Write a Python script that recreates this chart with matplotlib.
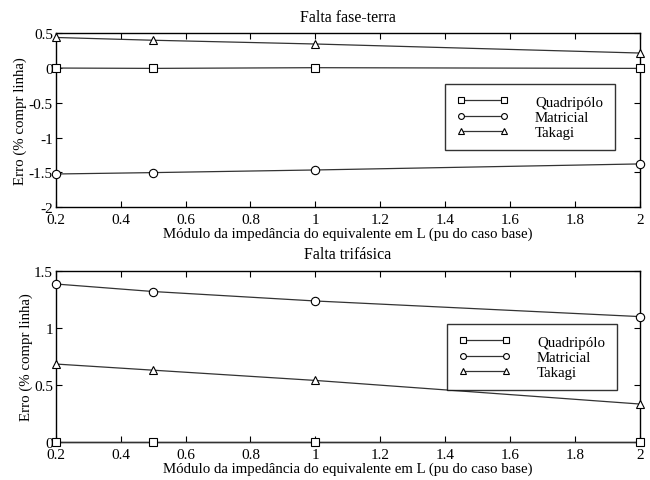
import matplotlib
matplotlib.use("Agg")
import matplotlib.pyplot as plt

plt.rcParams['font.family'] = ['Liberation Serif', 'DejaVu Serif']

x = [0.2, 0.5, 1.0, 2.0]

# Falta fase-terra
ft_quad = [0.0, -0.005, 0.005, -0.005]
ft_matr = [-1.525, -1.505, -1.467, -1.38]
ft_taka = [0.44, 0.40, 0.346, 0.216]

# Falta trifásica
tf_quad = [0.0, 0.0, 0.0, 0.0]
tf_matr = [1.386, 1.32, 1.237, 1.10]
tf_taka = [0.684, 0.63, 0.54, 0.333]

labels = ['Quadripólo', 'Matricial', 'Takagi']
markers = ['s', 'o', '^']
titles = ['Falta fase-terra', 'Falta trifásica']
xlabel = 'Módulo da impedância do equivalente em L (pu do caso base)'
ylabel = 'Erro (% compr linha)'
xticks = [0.2, 0.4, 0.6, 0.8, 1.0, 1.2, 1.4, 1.6, 1.8, 2.0]
xticklabels = ['0.2', '0.4', '0.6', '0.8', '1', '1.2', '1.4', '1.6', '1.8', '2']
yticks_top = [-2, -1.5, -1, -0.5, 0, 0.5]
yticklabels_top = ['-2', '-1.5', '-1', '-0.5', '0', '0.5']
yticks_bot = [0, 0.5, 1, 1.5]
yticklabels_bot = ['0', '0.5', '1', '1.5']

fig = plt.figure(figsize=(6.5, 4.81), dpi=100)
W, H = 650, 481
ax1 = fig.add_axes([55.7 / W, 1 - 208 / H, (640 - 55.7) / W, (208 - 34.3) / H])
ax2 = fig.add_axes([55.7 / W, 1 - 443 / H, (640 - 55.7) / W, (443 - 272) / H])

lc = '#333333'
for ax, series, yt, ytl, ylim, title, legpos in [
    (ax1, [ft_quad, ft_matr, ft_taka], yticks_top, yticklabels_top, (-2, 0.5), titles[0], (445, 85, 615, 147)),
    (ax2, [tf_quad, tf_matr, tf_taka], yticks_bot, yticklabels_bot, (0, 1.5), titles[1], (447, 325, 617, 387)),
]:
    for s, m, lab in zip(series, markers, labels):
        ax.plot(x, s, color=lc, lw=0.9, marker=m, markersize=6,
                markerfacecolor='white', markeredgecolor='black', markeredgewidth=0.8,
                label=lab, clip_on=False, zorder=3)
    ax.set_xlim(0.2, 2.0)
    ax.set_ylim(*ylim)
    ax.set_xticks(xticks)
    ax.set_xticklabels(xticklabels)
    ax.set_yticks(yt)
    ax.set_yticklabels(ytl)
    ax.tick_params(direction='in', top=True, right=True, labelsize=11, length=4, width=0.8)
    ax.tick_params(axis='x', pad=4)
    ax.tick_params(axis='y', pad=2)
    for sp in ax.spines.values():
        sp.set_linewidth(1.0)
    ax.set_title(title, fontsize=11.5, pad=9)
    ax.set_xlabel(xlabel, fontsize=10.7, labelpad=1)
    ax.set_ylabel(ylabel, fontsize=10.7, labelpad=1)
    x0, y0, x1, y1 = legpos
    leg = ax.legend(loc='upper left',
                    bbox_to_anchor=(x0 / W, 1 - y1 / H, (x1 - x0) / W, (y1 - y0) / H),
                    bbox_transform=fig.transFigure,
                    fontsize=10.7, frameon=True, fancybox=False,
                    edgecolor='black', handlelength=3.5, handletextpad=1.8,
                    labelspacing=0.12, borderpad=0.75, borderaxespad=0, numpoints=2,
                    markerscale=0.7, mode='expand')
    leg.get_frame().set_linewidth(1.0)

fig.savefig('out.png', dpi=100)
